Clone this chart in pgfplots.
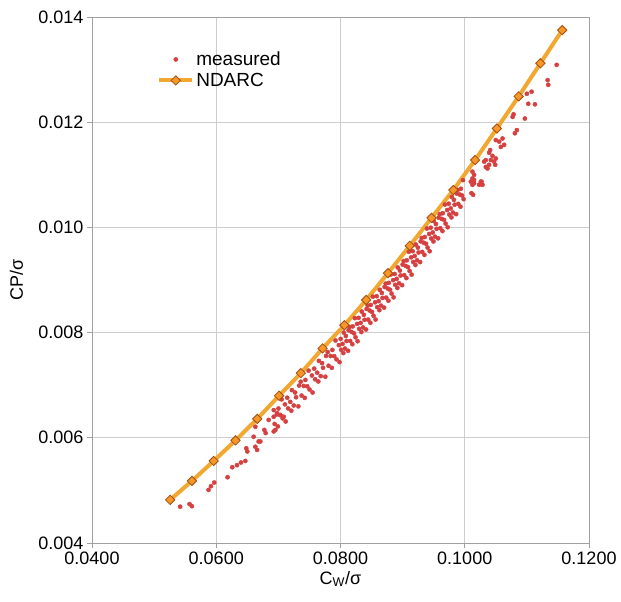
\documentclass[border=0pt]{standalone}
\usepackage{pgfplots}
\pgfplotsset{compat=1.18}
\usepackage{fontspec}
\setmainfont{Liberation Sans}

\definecolor{measred}{RGB}{214,64,64}
\definecolor{ndline}{RGB}{242,168,48}
\definecolor{ndfill}{RGB}{248,150,40}
\definecolor{nddraw}{RGB}{160,80,20}
\definecolor{gridgray}{RGB}{205,205,205}
\definecolor{axgray}{RGB}{160,160,160}

\begin{document}
\begin{tikzpicture}
\begin{axis}[
  width=497pt, height=526pt, scale only axis,
  xmin=0.04, xmax=0.12, ymin=0.004, ymax=0.014,
  xtick={0.04,0.06,0.08,0.10,0.12},
  ytick={0.004,0.006,0.008,0.010,0.012,0.014},
  scaled ticks=false,
  xticklabel style={/pgf/number format/.cd, fixed, fixed zerofill, precision=4},
  yticklabel style={/pgf/number format/.cd, fixed, fixed zerofill, precision=3},
  /pgf/number format/assume math mode=true,
  tick label style={font=\fontsize{18}{21}\selectfont},
  label style={font=\fontsize{18}{21}\selectfont},
  grid=major,
  major grid style={gridgray, line width=0.9pt},
  axis line style={axgray, line width=0.9pt},
  tick style={axgray, line width=0.9pt},
  tick align=outside, major tick length=5pt,
  xtick pos=left, ytick pos=left,
  xlabel={C\textsubscript{W}/σ},
  ylabel={CP/σ},
  every axis y label/.append style={at={(axis description cs:-0.152,0.5)}, anchor=center},
  legend style={at={(0.131,0.938)}, anchor=north west, draw=none, fill=none,
    font=\fontsize{19}{22}\selectfont, inner sep=0pt, row sep=2pt},
  legend cell align=left,
  legend image code/.code={\draw[mark repeat=2,mark phase=2,#1]
    plot coordinates {(0pt,0pt) (16.5pt,0pt) (33pt,0pt)};},
]

% measured power coefficient
\addplot[only marks, mark=*, mark size=2.1pt, color=measred,
  mark options={draw=measred, fill=measred}] table {
x y
0.05419 0.00469
0.05570 0.00474
0.05608 0.00470
0.05876 0.00501
0.05915 0.00508
0.05968 0.00515
0.06182 0.00525
0.06258 0.00544
0.06334 0.00548
0.06398 0.00553
0.06468 0.00556
0.06484 0.00580
0.06500 0.00574
0.06629 0.00583
0.06657 0.00577
0.06682 0.00593
0.06602 0.00602
0.06710 0.00593
0.06774 0.00615
0.06795 0.00609
0.06925 0.00612
0.06952 0.00615
0.06630 0.00621
0.06844 0.00634
0.06925 0.00640
0.06979 0.00647
0.07032 0.00643
0.07086 0.00640
0.06926 0.006526
0.06940 0.006263
0.06974 0.006444
0.06992 0.006216
0.07001 0.006557
0.07031 0.006434
0.07052 0.006730
0.07068 0.006370
0.07105 0.006635
0.07117 0.006310
0.07143 0.006762
0.07157 0.006559
0.07191 0.006683
0.07209 0.006515
0.07218 0.006907
0.07248 0.006614
0.07269 0.006861
0.07285 0.006771
0.07322 0.006598
0.07334 0.006993
0.07360 0.007066
0.07374 0.006803
0.07408 0.006986
0.07426 0.006759
0.07435 0.007100
0.07465 0.006979
0.07486 0.007277
0.07502 0.006918
0.07539 0.007185
0.07551 0.006861
0.07577 0.007315
0.07591 0.007113
0.07625 0.007238
0.07643 0.007071
0.07652 0.007463
0.07682 0.007173
0.07703 0.007420
0.07719 0.007331
0.07756 0.007161
0.07768 0.007557
0.07794 0.007631
0.07808 0.007370
0.07842 0.007555
0.07860 0.007330
0.07869 0.007671
0.07899 0.007552
0.07920 0.007850
0.07936 0.007491
0.07973 0.007762
0.07985 0.007438
0.08002 0.007881
0.08011 0.007673
0.08034 0.007785
0.08046 0.007611
0.08052 0.008000
0.08072 0.007697
0.08086 0.007936
0.08097 0.007841
0.08122 0.007654
0.08130 0.008045
0.08147 0.008109
0.08156 0.007841
0.08179 0.008013
0.08191 0.007779
0.08197 0.008118
0.08217 0.007986
0.08231 0.008275
0.08242 0.007911
0.08267 0.008165
0.08275 0.007836
0.08292 0.008280
0.08301 0.008072
0.08324 0.008185
0.08336 0.008011
0.08342 0.008400
0.08362 0.008098
0.08376 0.008338
0.08387 0.008243
0.08412 0.008059
0.08420 0.008450
0.08437 0.008515
0.08446 0.008247
0.08469 0.008420
0.08481 0.008187
0.08487 0.008526
0.08507 0.008394
0.08521 0.008684
0.08532 0.008320
0.08557 0.008576
0.08565 0.008248
0.08582 0.008692
0.08591 0.008485
0.08614 0.008598
0.08626 0.008426
0.08632 0.008814
0.08652 0.008513
0.08666 0.008754
0.08677 0.008660
0.08702 0.008475
0.08710 0.008867
0.08727 0.008932
0.08736 0.008665
0.08759 0.008839
0.08771 0.008606
0.08777 0.008945
0.08797 0.008815
0.08811 0.009105
0.08822 0.008741
0.08847 0.008998
0.08855 0.008670
0.08872 0.009115
0.08881 0.008908
0.08904 0.009021
0.08916 0.008849
0.08922 0.009238
0.08942 0.008938
0.08956 0.009179
0.08967 0.009085
0.08992 0.008902
0.09000 0.009294
0.09017 0.009360
0.09026 0.009093
0.09049 0.009268
0.09061 0.009036
0.09067 0.009375
0.09087 0.009245
0.09101 0.009536
0.09112 0.009172
0.09137 0.009430
0.09145 0.009102
0.09162 0.009548
0.09171 0.009342
0.09194 0.009457
0.09206 0.009285
0.09212 0.009674
0.09232 0.009375
0.09246 0.009616
0.09257 0.009523
0.09282 0.009341
0.09290 0.009734
0.09307 0.009800
0.09316 0.009534
0.09339 0.009709
0.09351 0.009478
0.09357 0.009817
0.09377 0.009688
0.09391 0.009979
0.09402 0.009616
0.09427 0.009875
0.09435 0.009547
0.09452 0.009994
0.09461 0.009788
0.09484 0.009904
0.09496 0.009733
0.09502 0.010122
0.09522 0.009824
0.09536 0.010065
0.09547 0.009973
0.09572 0.009792
0.09580 0.010185
0.09597 0.010251
0.09606 0.009985
0.09629 0.010162
0.09641 0.009931
0.09647 0.010270
0.09667 0.010142
0.09681 0.010434
0.09692 0.010072
0.09717 0.010330
0.09725 0.010003
0.09742 0.010450
0.09751 0.010244
0.09774 0.010361
0.09786 0.010190
0.09792 0.010580
0.09812 0.010282
0.09826 0.010525
0.09837 0.010432
0.09862 0.010252
0.09870 0.010645
0.09887 0.010712
0.09896 0.010447
0.09919 0.010625
0.09931 0.010394
0.09937 0.010734
0.09957 0.010606
0.09971 0.010899
0.09982 0.010537
0.10097 0.01087
0.10124 0.01081
0.10150 0.01090
0.10108 0.01065
0.10134 0.01062
0.10124 0.01093
0.10150 0.01084
0.10150 0.01100
0.10124 0.01106
0.10231 0.01081
0.10258 0.01087
0.10270 0.01087
0.10286 0.01081
0.10312 0.01125
0.10339 0.01128
0.10339 0.01115
0.10366 0.01112
0.10392 0.01119
0.10420 0.01128
0.10473 0.01125
0.10490 0.01119
0.10500 0.01131
0.10393 0.01142
0.10409 0.01147
0.10446 0.01136
0.10554 0.01163
0.10581 0.01153
0.10608 0.01169
0.10634 0.01157
0.10500 0.01166
0.10807 0.01179
0.10839 0.01185
0.10770 0.01210
0.10786 0.01215
0.10968 0.01207
0.11022 0.01235
0.11130 0.01234
0.11000 0.01254
0.11076 0.01258
0.11334 0.01280
0.11344 0.01271
0.11480 0.01309
};
\addlegendentry{measured}

% NDARC calculation
\addplot[color=ndline, line width=4pt, mark=square*, mark size=3.3pt,
  mark options={rotate=45, fill=ndfill, draw=nddraw, line width=0.8pt}] coordinates {
(0.05258,0.00482) (0.05609,0.00518) (0.05959,0.00556) (0.06310,0.00595)
(0.06660,0.00636) (0.07011,0.00680) (0.07362,0.00723) (0.07712,0.00770)
(0.08063,0.00814) (0.08413,0.00862) (0.08764,0.00913) (0.09115,0.00965)
(0.09465,0.01018) (0.09816,0.01071) (0.10166,0.01128) (0.10517,0.01188)
(0.10868,0.01249) (0.11218,0.01312) (0.11569,0.01375)
};
\addlegendentry{NDARC}
\end{axis}
\pgfresetboundingbox
\path ([xshift=-92pt,yshift=-59pt]current axis.south west)
  rectangle ([xshift=32pt,yshift=17pt]current axis.north east);
\end{tikzpicture}
\end{document}
